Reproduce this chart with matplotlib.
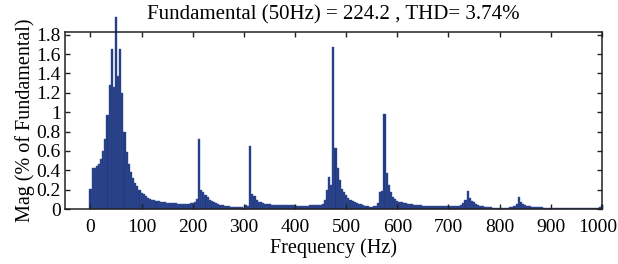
import numpy as np
import matplotlib
matplotlib.use('Agg')
import matplotlib.pyplot as plt
import matplotlib.transforms as mtransforms

plt.rcParams['font.family'] = ['Liberation Serif', 'DejaVu Serif']

# FFT bins of 50/12 Hz (12 cycles window), 0 .. 1000 Hz
freq_step = 50 / 12
mag = [
    0.21, 0.42, 0.42, 0.44, 0.47, 0.52, 0.60, 0.72, 0.97, 1.28,
    1.65, 1.26, 1.98, 1.37, 1.65, 1.20, 0.80, 0.59, 0.47, 0.38,
    0.32, 0.27, 0.235, 0.20, 0.17, 0.15, 0.13, 0.115, 0.105, 0.097,
    0.090, 0.084, 0.080, 0.076, 0.073, 0.070, 0.067, 0.064, 0.061, 0.059,
    0.057, 0.055, 0.053, 0.052, 0.051, 0.052, 0.054, 0.058, 0.062, 0.070,
    0.10, 0.72, 0.196, 0.18, 0.145, 0.12, 0.095, 0.08, 0.07, 0.06,
    0.05, 0.045, 0.04, 0.035, 0.03, 0.028, 0.025, 0.022, 0.02, 0.018,
    0.017, 0.016, 0.015, 0.04, 0.035, 0.65, 0.15, 0.13, 0.09, 0.075,
    0.07, 0.06, 0.055, 0.05, 0.048, 0.045, 0.043, 0.042, 0.041, 0.040,
    0.040, 0.039, 0.039, 0.038, 0.038, 0.037, 0.037, 0.036, 0.036, 0.036,
    0.036, 0.036, 0.036, 0.037, 0.037, 0.038, 0.040, 0.042, 0.045, 0.05,
    0.09, 0.20, 0.33, 0.25, 1.67, 0.63, 0.42, 0.30, 0.21, 0.18,
    0.14, 0.11, 0.093, 0.08, 0.07, 0.06, 0.053, 0.047, 0.04, 0.035,
    0.03, 0.025, 0.025, 0.028, 0.035, 0.06, 0.18, 0.19, 0.98, 0.37,
    0.25, 0.18, 0.12, 0.10, 0.085, 0.075, 0.068, 0.062, 0.057, 0.053,
    0.05, 0.047, 0.044, 0.042, 0.04, 0.038, 0.036, 0.035, 0.034, 0.033,
    0.032, 0.03, 0.03, 0.03, 0.029, 0.029, 0.029, 0.028, 0.028, 0.028,
    0.029, 0.03, 0.032, 0.035, 0.04, 0.06, 0.09, 0.186, 0.11, 0.085,
    0.07, 0.055, 0.045, 0.035, 0.028, 0.024, 0.02, 0.018, 0.016, 0.014,
    0.012, 0.011, 0.01, 0.01, 0.011, 0.012, 0.014, 0.017, 0.022, 0.03,
    0.05, 0.12, 0.075, 0.05, 0.038, 0.03, 0.026, 0.023, 0.021, 0.02,
    0.019, 0.018, 0.016, 0.014, 0.013, 0.012, 0.011, 0.01, 0.009, 0.009,
    0.009, 0.009, 0.008, 0.008, 0.008, 0.008, 0.008, 0.008, 0.008, 0.008,
    0.008, 0.008, 0.008, 0.008, 0.008, 0.008, 0.008, 0.009, 0.012, 0.02,
    0.04,
]
x_ticks = list(range(0, 1001, 100))
y_ticks = [0, 0.2, 0.4, 0.6, 0.8, 1, 1.2, 1.4, 1.6, 1.8]
y_tick_labels = ['0', '0.2', '0.4', '0.6', '0.8', '1', '1.2', '1.4', '1.6', '1.8']
title = 'Fundamental (50Hz) = 224.2 , THD= 3.74%'

freqs = np.arange(len(mag)) * freq_step

fig = plt.figure(figsize=(6.18, 2.64), dpi=100)
ax = fig.add_axes([0.105, 0.2083, 0.869, 0.671])
bars = ax.bar(freqs, mag, width=freq_step, color='#213a82',
              edgecolor='#3b5399', linewidth=0.3)
for b in bars:
    b.set_clip_on(False)

ax.set_xlim(-50, 1000)
ax.set_ylim(0, 1.83)
ax.set_xticks(x_ticks)
ax.set_yticks(y_ticks)
ax.set_yticklabels(y_tick_labels)
ax.set_axisbelow(False)
ax.tick_params(direction='in', top=True, right=True, length=3.5, width=1,
               labelsize=14, color='#222222')
ax.tick_params(axis='x', pad=7)
ax.tick_params(axis='y', pad=3)
# last label sits a little inside, so it is not cut at the figure edge
shift = mtransforms.ScaledTranslation(-4 / 100, 0, fig.dpi_scale_trans)
last = ax.get_xticklabels()[-1]
last.set_transform(last.get_transform() + shift)
for s in ax.spines.values():
    s.set_linewidth(1.1)
    s.set_color('#222222')
    s.set_zorder(5)

ax.set_title(title, fontsize=15, pad=9)
ax.set_xlabel('Frequency (Hz)', fontsize=14.5, labelpad=2)
ax.set_ylabel('Mag (% of Fundamental)', fontsize=14.5, labelpad=1)

fig.savefig('out.png', dpi=100)
